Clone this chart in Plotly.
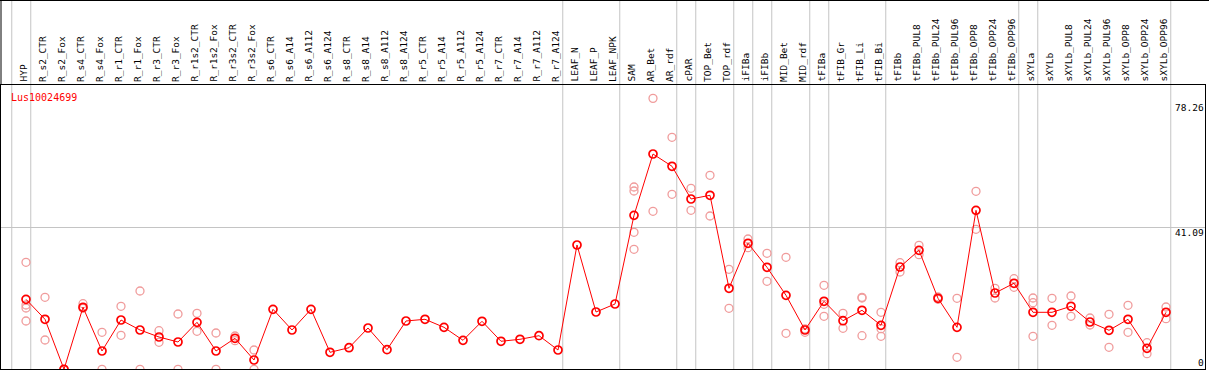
import plotly.graph_objects as go

gene_label = "Lus10024699"

categories = ["HYP", "R_s2_CTR", "R_s2_Fox", "R_s4_CTR", "R_s4_Fox", "R_r1_CTR", "R_r1_Fox",
              "R_r3_CTR", "R_r3_Fox", "R_r1s2_CTR", "R_r1s2_Fox", "R_r3s2_CTR", "R_r3s2_Fox",
              "R_s6_CTR", "R_s6_A14", "R_s6_A112", "R_s6_A124", "R_s8_CTR", "R_s8_A14",
              "R_s8_A112", "R_s8_A124", "R_r5_CTR", "R_r5_A14", "R_r5_A112", "R_r5_A124",
              "R_r7_CTR", "R_r7_A14", "R_r7_A112", "R_r7_A124", "LEAF_N", "LEAF_P", "LEAF_NPK",
              "SAM", "AR_Bet", "AR_rdf", "cPAR", "TOP_Bet", "TOP_rdf", "iFIBa", "iFIBb",
              "MID_Bet", "MID_rdf", "tFIBa", "tFIB_Gr", "tFIB_Li", "tFIB_Bi", "tFIBb",
              "tFIBb_PUL8", "tFIBb_PUL24", "tFIBb_PUL96", "tFIBb_OPP8", "tFIBb_OPP24",
              "tFIBb_OPP96", "sXYLa", "sXYLb", "sXYLb_PUL8", "sXYLb_PUL24", "sXYLb_PUL96",
              "sXYLb_OPP8", "sXYLb_OPP24", "sXYLb_OPP96"]

mean_values = [20.43, 14.68, 0.29, 18.13, 5.55, 14.47, 11.60, 9.58, 8.14, 13.81, 5.55, 9.21, 2.96,
               17.55, 11.60, 17.55, 5.18, 6.50, 12.17, 5.93, 14.19, 14.68, 12.37, 8.63, 14.10,
               8.35, 8.92, 9.96, 5.84, 36.06, 16.78, 19.08,
               44.60, 62.24, 58.71, 49.30, 50.36, 23.60, 36.55, 29.64,
               21.58, 11.60, 19.86, 14.27, 17.27, 12.95, 29.73,
               34.53, 20.72, 12.37, 46.04, 22.24, 25.04,
               16.69, 16.69, 18.42, 13.90, 11.51, 14.68, 6.33, 16.69]

replicate_values = [
    [31.08, 18.79, 17.93, 14.19], [21.01, 8.72], [0.29], [19.17, 17.84], [10.94, 0.29],
    [18.42, 10.07], [22.82, 0.29], [11.40, 8.06], [16.20, 0.29], [16.40, 11.22],
    [10.73, 0.29], [9.87, 8.52], [5.84, 0.29],
    [], [], [], [], [], [], [], [], [], [], [], [], [], [], [], [],
    [], [], [],
    [52.75, 51.60, 39.71, 34.82], [78.26, 45.76], [67.05, 50.65], [52.37, 46.04],
    [56.12, 44.40], [29.06, 17.84], [37.78, 35.28], [33.67, 25.61],
    [32.52, 10.65], [10.94, 11.88], [24.46, 18.99, 15.54], [16.40, 12.09],
    [21.01, 20.81, 9.96], [16.69, 11.97, 9.78], [30.96, 28.29],
    [35.97, 33.27], [21.09, 20.43], [20.72, 3.74], [51.51, 40.58], [23.60, 20.81],
    [26.36, 23.88],
    [20.81, 19.45, 9.78], [20.72, 12.95], [21.38, 15.54], [15.05, 13.04], [16.12, 6.62],
    [18.71, 10.94], [7.94, 4.78], [18.22, 14.85],
]

axis_labels = ["78.26", "41.09", "0"]
grid_value = 41.09

# indices after which a group separator line is drawn
group_ends = [-1, 0, 28, 31, 34, 35, 37, 38, 39, 41, 42, 45, 52, 53, 60]

W, H = 1209, 370
ML, MR, MT, MB = 1, 4, 85, 1
plot_h = H - MT - MB
col_px0, col_step = 26.0, 19.0
x_lo = (ML - col_px0) / col_step
x_hi = (W - MR - col_px0) / col_step
zero_px, px_per_unit = 370.3, 3.475
y_lo = (zero_px - (H - MB)) / px_per_unit
y_hi = (zero_px - MT) / px_per_unit


def paper_y(py):
    return (H - MB - py) / plot_h


xs = list(range(len(categories)))
rep_x, rep_y = [], []
for i, reps in enumerate(replicate_values):
    for v in reps:
        rep_x.append(i)
        rep_y.append(v)

fig = go.Figure()
fig.add_trace(go.Scatter(
    x=rep_x, y=rep_y, mode="markers", hoverinfo="skip",
    marker=dict(symbol="circle-open", size=8, color="#f09c9c", line=dict(width=1.3, color="#f09c9c")),
))
fig.add_trace(go.Scatter(
    x=xs, y=mean_values, mode="lines+markers", text=categories,
    line=dict(color="#ff0000", width=1),
    marker=dict(symbol="circle-open", size=8, color="#ff0000", line=dict(width=1.7, color="#ff0000")),
))

shapes = []
top_paper = paper_y(0)
for g in group_ends:
    xv = g + 0.25
    shapes.append(dict(type="line", xref="x", yref="paper", x0=xv, x1=xv, y0=0, y1=top_paper,
                       line=dict(color="#c4c4c4", width=1), layer="below"))
shapes.append(dict(type="line", xref="paper", yref="y", x0=0, x1=1, y0=grid_value, y1=grid_value,
                   line=dict(color="#c4c4c4", width=1), layer="below"))
# header frame
shapes.append(dict(type="line", xref="paper", yref="paper", x0=-1 / (W - ML - MR), x1=1.01,
                   y0=top_paper - 0.5 / plot_h, y1=top_paper - 0.5 / plot_h,
                   line=dict(color="black", width=1)))
shapes.append(dict(type="line", xref="paper", yref="paper", x0=0, x1=0, y0=1, y1=top_paper,
                   line=dict(color="black", width=1)))

annotations = []
for i, name in enumerate(categories):
    annotations.append(dict(x=i, y=paper_y(83), xref="x", yref="paper", text=name, textangle=-90,
                            xanchor="center", yanchor="bottom", showarrow=False, xshift=-3,
                            font=dict(family="DejaVu Sans Mono", size=9.5, color="black"),
                            borderpad=0))
label_px = [107, 232, 362]
for t, py in zip(axis_labels, label_px):
    annotations.append(dict(x=1, y=paper_y(py), xref="paper", yref="paper", text=t,
                            xanchor="right", yanchor="middle", showarrow=False, borderpad=0,
                            font=dict(family="DejaVu Sans Mono", size=9.5, color="black")))
annotations.append(dict(x=(10 - ML) / (W - ML - MR), y=paper_y(97), xref="paper", yref="paper",
                        text=gene_label, xanchor="left", yanchor="middle", showarrow=False, borderpad=0,
                        font=dict(family="DejaVu Sans Mono", size=10, color="#ff0000")))

fig.update_layout(
    width=W, height=H, margin=dict(l=ML, r=MR, t=MT, b=MB, pad=0),
    paper_bgcolor="white", plot_bgcolor="white", showlegend=False,
    xaxis=dict(range=[x_lo, x_hi], showgrid=False, zeroline=False, showticklabels=False,
               ticks="", showline=True, mirror=True, linecolor="black", linewidth=1),
    yaxis=dict(range=[y_lo, y_hi], showgrid=False, zeroline=False, showticklabels=False,
               ticks="", showline=True, mirror=True, linecolor="black", linewidth=1),
    shapes=shapes, annotations=annotations,
)

fig.write_html("out.html", config={"displayModeBar": False},
               post_script="document.body.style.margin='0';document.body.style.overflow='hidden';")
